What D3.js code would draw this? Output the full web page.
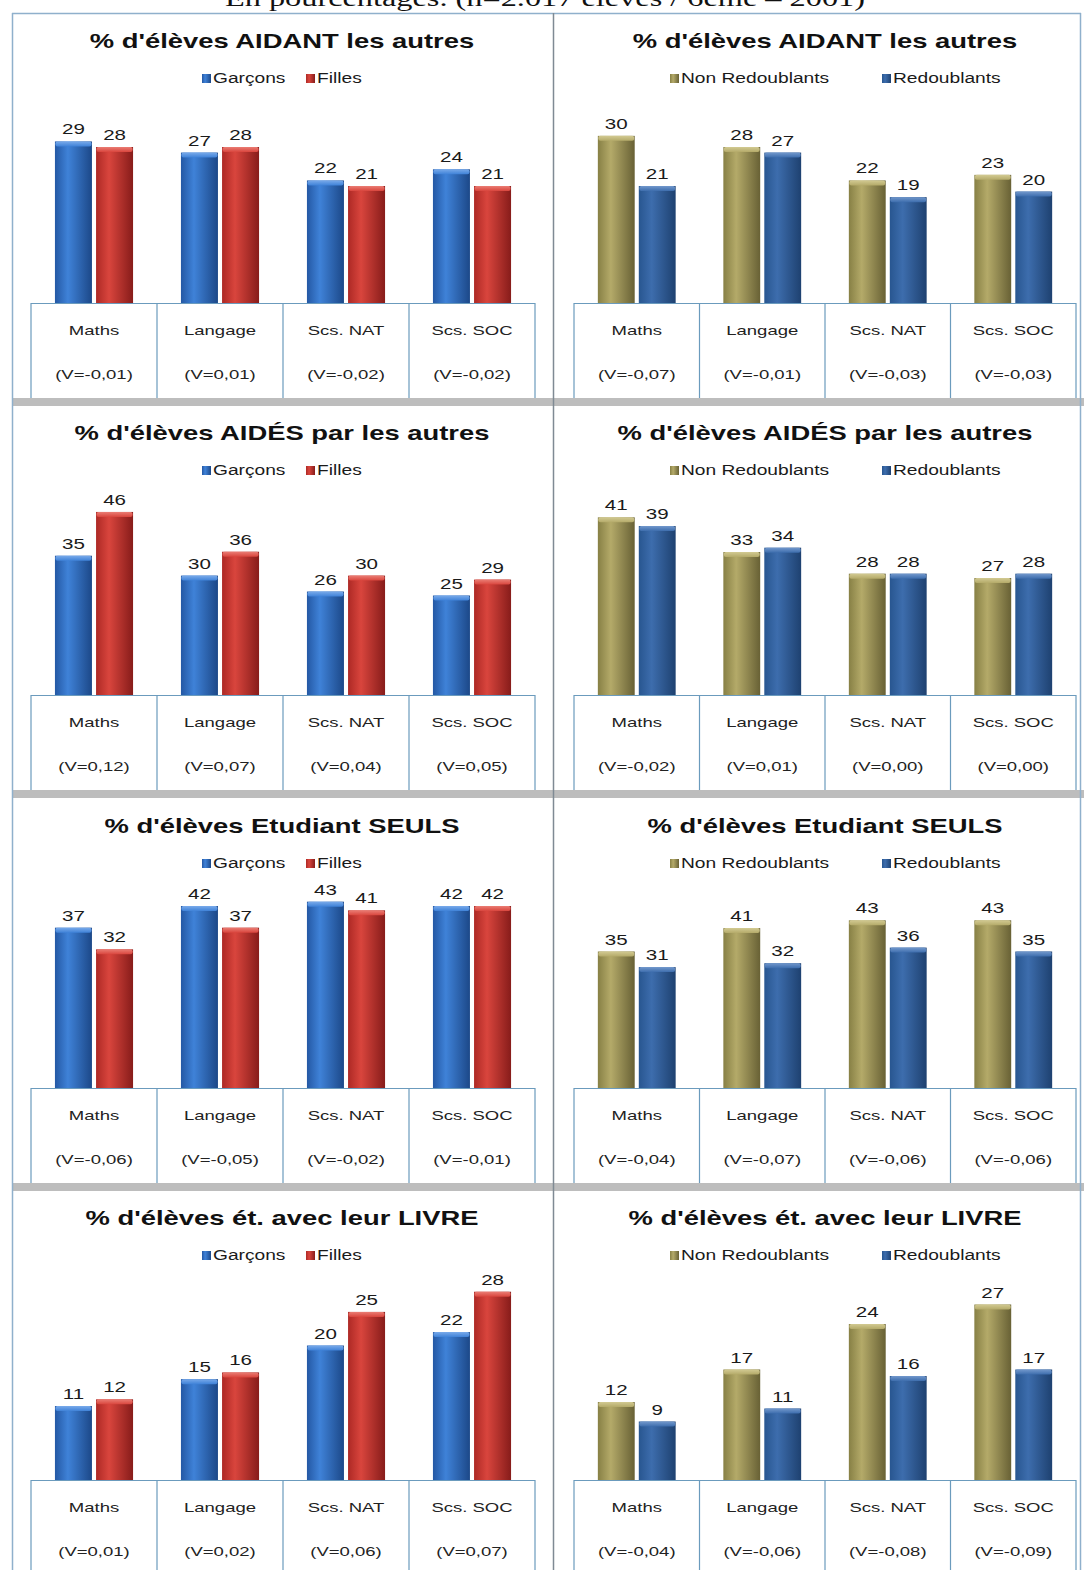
<!DOCTYPE html>
<html><head><meta charset="utf-8">
<script src="https://cdn.jsdelivr.net/npm/d3@7"></script>
<style>body{margin:0;background:#fff} svg{display:block}</style>
</head><body>
<svg id="c" width="1084" height="1570"></svg>
<script>
// ---------- DATA ----------
const categories = ["Maths", "Langage", "Scs. NAT", "Scs. SOC"];
const titles = ["% d'élèves AIDANT les autres", "% d'élèves AIDÉS par les autres",
                "% d'élèves Etudiant SEULS", "% d'élèves ét. avec leur LIVRE"];
const genderSeries = ["Garçons", "Filles"];
const redoubSeries = ["Non Redoublants", "Redoublants"];

const aidantGarcons = [29, 27, 22, 24], aidantFilles = [28, 28, 21, 21];
const aidantNonRed  = [30, 28, 22, 23], aidantRed    = [21, 27, 19, 20];
const aidesGarcons  = [35, 30, 26, 25], aidesFilles  = [46, 36, 30, 29];
const aidesNonRed   = [41, 33, 28, 27], aidesRed     = [39, 34, 28, 28];
const seulsGarcons  = [37, 42, 43, 42], seulsFilles  = [32, 37, 41, 42];
const seulsNonRed   = [35, 41, 43, 43], seulsRed     = [31, 32, 36, 35];
const livreGarcons  = [11, 15, 20, 22], livreFilles  = [12, 16, 25, 28];
const livreNonRed   = [12, 17, 24, 27], livreRed     = [9, 11, 16, 17];

const aidantVgender = ["(V=-0,01)", "(V=0,01)", "(V=-0,02)", "(V=-0,02)"];
const aidantVred    = ["(V=-0,07)", "(V=-0,01)", "(V=-0,03)", "(V=-0,03)"];
const aidesVgender  = ["(V=0,12)", "(V=0,07)", "(V=0,04)", "(V=0,05)"];
const aidesVred     = ["(V=-0,02)", "(V=0,01)", "(V=0,00)", "(V=0,00)"];
const seulsVgender  = ["(V=-0,06)", "(V=-0,05)", "(V=-0,02)", "(V=-0,01)"];
const seulsVred     = ["(V=-0,04)", "(V=-0,07)", "(V=-0,06)", "(V=-0,06)"];
const livreVgender  = ["(V=0,01)", "(V=0,02)", "(V=0,06)", "(V=0,07)"];
const livreVred     = ["(V=-0,04)", "(V=-0,06)", "(V=-0,08)", "(V=-0,09)"];

// axis maxima (value scale of each panel)
const axisMaxLeft  = [35, 49, 45, 29];
const axisMaxRight = [35, 45, 50, 30];

const headerText = "En pourcentages. (n=2.017 élèves / 6ème – 2001)";

// ---------- BUILD ----------
const rows = [
  {title: titles[0],
   left:  {series: genderSeries, values: [aidantGarcons, aidantFilles], v: aidantVgender, max: axisMaxLeft[0]},
   right: {series: redoubSeries, values: [aidantNonRed, aidantRed], v: aidantVred, max: axisMaxRight[0]}},
  {title: titles[1],
   left:  {series: genderSeries, values: [aidesGarcons, aidesFilles], v: aidesVgender, max: axisMaxLeft[1]},
   right: {series: redoubSeries, values: [aidesNonRed, aidesRed], v: aidesVred, max: axisMaxRight[1]}},
  {title: titles[2],
   left:  {series: genderSeries, values: [seulsGarcons, seulsFilles], v: seulsVgender, max: axisMaxLeft[2]},
   right: {series: redoubSeries, values: [seulsNonRed, seulsRed], v: seulsVred, max: axisMaxRight[2]}},
  {title: titles[3],
   left:  {series: genderSeries, values: [livreGarcons, livreFilles], v: livreVgender, max: axisMaxLeft[3]},
   right: {series: redoubSeries, values: [livreNonRed, livreRed], v: livreVred, max: axisMaxRight[3]}}
];

const svg = d3.select("#c");
const SX = 1.37;
const FONT = "'Liberation Sans', Arial, sans-serif";
const defs = svg.append("defs");

const palette = {
  "Garçons":        {c: ["#2458a4", "#3f82d8", "#1c4888"], cap: "#79aaea"},
  "Filles":         {c: ["#ad2925", "#d9453d", "#871c1a"], cap: "#ea7d74"},
  "Non Redoublants":{c: ["#878045", "#b4aa69", "#686135"], cap: "#d2ca92"},
  "Redoublants":    {c: ["#285690", "#3d6dad", "#1e4170"], cap: "#7298cc"}
};
const gid = {};
Object.keys(palette).forEach((k, i) => {
  const g = defs.append("linearGradient").attr("id", "g" + i)
    .attr("x1", "0%").attr("x2", "100%").attr("y1", "0%").attr("y2", "0%");
  const c = palette[k].c;
  g.append("stop").attr("offset", "0%").attr("stop-color", c[0]);
  g.append("stop").attr("offset", "35%").attr("stop-color", c[1]);
  g.append("stop").attr("offset", "100%").attr("stop-color", c[2]);
  const h = defs.append("linearGradient").attr("id", "h" + i)
    .attr("x1", "0%").attr("x2", "0%").attr("y1", "0%").attr("y2", "100%");
  h.append("stop").attr("offset", "0%").attr("stop-color", palette[k].cap);
  h.append("stop").attr("offset", "100%").attr("stop-color", c[1]);
  gid[k] = i;
});

function txt(g, x, y, s, size, opts = {}) {
  return g.append("text")
    .attr("transform", `translate(${x},${y}) scale(${SX},1)`)
    .attr("text-anchor", opts.anchor || "middle")
    .attr("font-family", opts.family || FONT)
    .attr("font-size", size)
    .attr("font-weight", opts.weight || "normal")
    .attr("fill", opts.fill || "#222")
    .text(s);
}

// header (clipped at top, as in the source page)
svg.append("text")
  .attr("x", 225).attr("y", 6)
  .attr("font-family", "'Liberation Serif', 'DejaVu Serif', serif")
  .attr("font-size", 24)
  .attr("textLength", 640).attr("lengthAdjust", "spacingAndGlyphs")
  .attr("fill", "#111")
  .text(headerText);

const FRAME = "#8fb0cc", TABLE = "#6b9bbd";
const panelsX = [{L: 12, R: 553, tL: 31, tR: 535, tc: 282, leg: [202, 306]},
                 {L: 553, R: 1081, tL: 574, tR: 1076, tc: 825, leg: [670, 882]}];
const rowTops = [13, 405, 798, 1190];
const PLOT_H = 195;

rows.forEach((row, r) => {
  const top = rowTops[r];
  const baseline = top + 290;
  const bottom = r < 3 ? top + 385 : 1570;
  [row.left, row.right].forEach((p, s) => {
    const P = panelsX[s];
    const g = svg.append("g");
    // title
    txt(g, P.tc, top + 35, row.title, 20, {weight: "bold", fill: "#111"});
    // legend
    p.series.forEach((ser, j) => {
      const mx = P.leg[j];
      g.append("rect").attr("x", mx).attr("y", top + 61).attr("width", 9).attr("height", 9)
        .attr("fill", `url(#g${gid[ser]})`);
      txt(g, mx + 11, top + 70, ser, 14, {anchor: "start", fill: "#1a1a1a"});
    });
    // scales
    const y = d3.scaleLinear().domain([0, p.max]).range([baseline, baseline - PLOT_H]);
    const x0 = d3.scaleBand().domain(categories).range([P.tL, P.tR])
      .paddingInner(0.38).paddingOuter(0.19);
    const x1 = d3.scaleBand().domain(p.series).range([0, x0.bandwidth()]).paddingInner(0.1);
    const bars = [];
    categories.forEach((c, i) => p.series.forEach((ser, j) =>
      bars.push({c, ser, v: p.values[j][i]})));
    const bg = g.append("g");
    bg.selectAll("rect.bar").data(bars).join("rect").attr("class", "bar")
      .attr("x", d => x0(d.c) + x1(d.ser))
      .attr("y", d => y(d.v))
      .attr("width", x1.bandwidth())
      .attr("height", d => baseline - y(d.v))
      .attr("fill", d => `url(#g${gid[d.ser]})`);
    bg.selectAll("rect.cap").data(bars).join("rect").attr("class", "cap")
      .attr("x", d => x0(d.c) + x1(d.ser) + 0.5)
      .attr("y", d => y(d.v))
      .attr("width", x1.bandwidth() - 1)
      .attr("height", 5).attr("rx", 2)
      .attr("fill", d => `url(#h${gid[d.ser]})`);
    bars.forEach(d => {
      txt(g, x0(d.c) + x1(d.ser) + x1.bandwidth() / 2, y(d.v) - 7, d.v, 15, {fill: "#1a1a1a"});
    });
    // data table below
    const step = x0.step();
    g.append("line").attr("x1", P.tL).attr("x2", P.tR).attr("y1", baseline + 0.5).attr("y2", baseline + 0.5)
      .attr("stroke", TABLE).attr("stroke-width", 1.2);
    d3.range(5).forEach(k => {
      g.append("line").attr("x1", P.tL + k * step).attr("x2", P.tL + k * step)
        .attr("y1", baseline).attr("y2", bottom).attr("stroke", TABLE).attr("stroke-width", 1.2);
    });
    categories.forEach((c, i) => {
      const cx = x0(c) + x0.bandwidth() / 2;
      txt(g, cx, baseline + 32, c, 13.5, {fill: "#222"});
      txt(g, cx, baseline + 76, p.v[i], 13.5, {fill: "#222"});
    });
  });
  if (r < 3) {
    svg.append("rect").attr("x", 12).attr("y", top + 385).attr("width", 1072).attr("height", 8)
      .attr("fill", "#bdbdbd");
  }
});

// frame
svg.append("line").attr("x1", 12).attr("x2", 1081).attr("y1", 13.5).attr("y2", 13.5)
  .attr("stroke", FRAME).attr("stroke-width", 1.5);
svg.append("line").attr("x1", 12.5).attr("x2", 12.5).attr("y1", 13).attr("y2", 1570)
  .attr("stroke", FRAME).attr("stroke-width", 1.5);
svg.append("line").attr("x1", 1080.5).attr("x2", 1080.5).attr("y1", 13).attr("y2", 1570)
  .attr("stroke", FRAME).attr("stroke-width", 1.5);
svg.append("line").attr("x1", 553.5).attr("x2", 553.5).attr("y1", 13).attr("y2", 1570)
  .attr("stroke", "#7f8a94").attr("stroke-width", 1.5);
</script>
</body></html>
